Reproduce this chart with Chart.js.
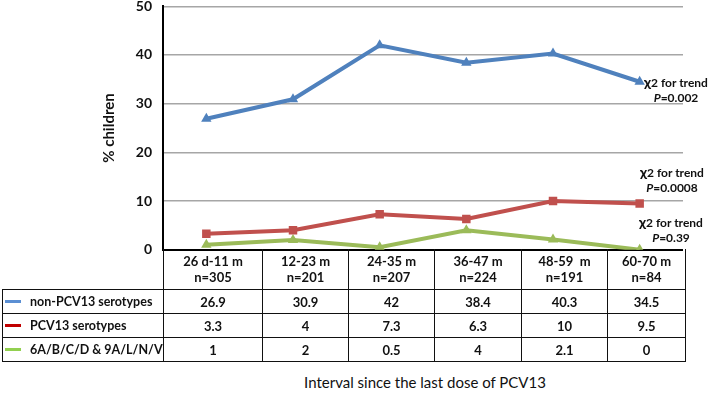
<!DOCTYPE html>
<html lang="en">
  <head>
    <meta charset="UTF-8" />
    <script src="https://cdn.jsdelivr.net/npm/chart.js"></script>
    <title>Serotypes by interval since PCV13</title>
    <style>
      body { margin: 0; background: #fff; font-family: Lato, "Open Sans", sans-serif; }
      #wrap { position: relative; width: 708px; height: 395px; overflow: hidden; }
      #chartBox { position: absolute; left: 0; top: -11px; width: 708px; height: 278px; }
      #dataTable {
        position: absolute; left: 2px; top: 249px;
        border-collapse: collapse; table-layout: fixed;
        font-weight: 700; font-size: 13px; color: #111;
      }
      #dataTable td { border: 1px solid #111; text-align: center; padding: 0; }
      #dataTable tr.head td { height: 40px; line-height: 16px; border-top: none; }
      #dataTable tr.head td.blank { border: none; border-right: 1px solid #111; }
      #dataTable tr.row td { height: 23px; }
      #dataTable td.name { text-align: left; white-space: nowrap; font-size: 12.5px; }
      .swatch { display: inline-block; width: 16px; height: 3px; margin: 0 9px 3px 2px; vertical-align: middle; }
      .note { position: absolute; width: 76px; text-align: center; font-size: 12px; font-weight: 700; line-height: 15px; color: #111; }
      .note b { font-size: 14px; }
      #xTitle { position: absolute; left: 0; width: 850px; top: 373px; text-align: center; font-size: 15px; color: #111; }
    </style>
  </head>
  <body>
    <div id="wrap">
      <div id="chartBox"><canvas id="serotypeChart"></canvas></div>
      <table id="dataTable"></table>
      <div class="note" style="left: 638px; top: 74px"><b>χ</b>2 for trend<br /><i>P</i>=0.002</div>
      <div class="note" style="left: 634px; top: 164px"><b>χ</b>2 for trend<br /><i>P</i>=0.0008</div>
      <div class="note" style="left: 633px; top: 214px"><b>χ</b>2 for trend<br /><i>P</i>=0.39</div>
      <div id="xTitle">Interval since the last dose of PCV13</div>
    </div>

    <script>
      // intervals since the last dose + group sizes
      const categories = ["26 d-11 m", "12-23 m", "24-35 m", "36-47 m", "48-59  m", "60-70 m"];
      const groupSizes = ["n=305", "n=201", "n=207", "n=224", "n=191", "n=84"];

      const seriesNames = ["non-PCV13 serotypes", "PCV13 serotypes", "6A/B/C/D & 9A/L/N/V"];
      const nonPcv13 = [26.9, 30.9, 42, 38.4, 40.3, 34.5];
      const pcv13 = [3.3, 4, 7.3, 6.3, 10, 9.5];
      const relatedTypes = [1, 2, 0.5, 4, 2.1, 0];

      const yTicks = [0, 10, 20, 30, 40, 50];

      const lineColors = ["#4f81bd", "#c0504d", "#9bbb59"];
      const swatchColors = ["#5b8fd3", "#c00000", "#92d050"];

      // table under the plot
      const table = document.getElementById("dataTable");
      const colWidths = [161, 99, 86, 86, 87, 86, 78];
      let html = "<colgroup>" + colWidths.map((w) => `<col style="width:${w}px">`).join("") + "</colgroup>";
      html += '<tr class="head"><td class="blank"></td>' +
        categories.map((c, i) => `<td>${c.replace(/ /g, "&nbsp;")}<br>${groupSizes[i]}</td>`).join("") + "</tr>";
      [nonPcv13, pcv13, relatedTypes].forEach((vals, k) => {
        html += `<tr class="row"><td class="name"><span class="swatch" style="background:${swatchColors[k]}"></span>${seriesNames[k]}</td>` +
          vals.map((v) => `<td>${v}</td>`).join("") + "</tr>";
      });
      table.innerHTML = html;

      const ctx = document.getElementById("serotypeChart").getContext("2d");
      const pointShapes = ["triangle", "rect", "triangle"];

      new Chart(ctx, {
        type: "line",
        data: {
          labels: categories,
          datasets: [nonPcv13, pcv13, relatedTypes].map((vals, k) => ({
            label: seriesNames[k],
            data: vals,
            borderColor: lineColors[k],
            backgroundColor: lineColors[k],
            borderWidth: 4,
            pointStyle: pointShapes[k],
            pointRadius: 6,
            pointBorderWidth: 0,
            tension: 0
          }))
        },
        options: {
          responsive: true,
          maintainAspectRatio: false,
          animation: false,
          layout: { padding: { left: 100, right: 25, top: 6, bottom: 13 } },
          plugins: { legend: { display: false }, tooltip: { enabled: false } },
          scales: {
            x: { display: false, offset: true },
            y: {
              min: 0,
              max: 50,
              afterBuildTicks: (s) => { s.ticks = yTicks.map((v) => ({ value: v })); },
              afterFit: (s) => { s.width = 63; },
              border: { display: true, color: "#000", width: 2 },
              grid: {
                drawTicks: false,
                color: (c) => (c.tick && c.tick.value === 0 ? "#000" : "#a6a6a6"),
                lineWidth: (c) => (c.tick && c.tick.value === 0 ? 2 : 1.5)
              },
              ticks: {
                padding: 11,
                color: "#111",
                font: { family: "Lato", size: 14, weight: "bold", lineHeight: 0.9 }
              },
              title: {
                display: true,
                text: "% children",
                color: "#111",
                padding: 0,
                font: { family: "Lato", size: 15, weight: "bold" }
              }
            }
          }
        }
      });
    </script>
  </body>
</html>
